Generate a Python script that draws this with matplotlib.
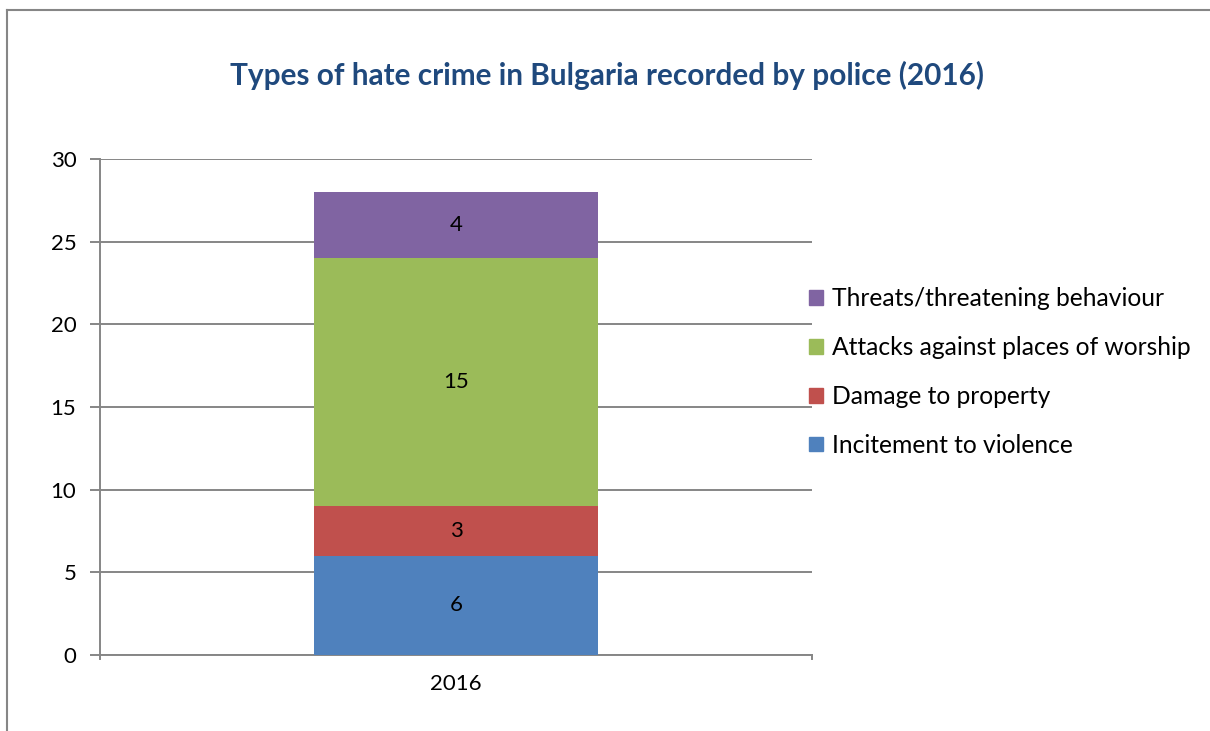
import matplotlib.pyplot as plt
from matplotlib.patches import Patch
from matplotlib.lines import Line2D

plt.rcParams['font.family'] = ['Lato', 'DejaVu Sans']

# Data
year = "2016"
categories = ["Incitement to violence", "Damage to property",
              "Attacks against places of worship", "Threats/threatening behaviour"]
values = [6, 3, 15, 4]
colors = ["#4F81BD", "#C0504D", "#9BBB59", "#8064A2"]

grid_col = "#868686"

fig = plt.figure(figsize=(12.1, 7.31), dpi=100)
ax = fig.add_axes([100 / 1210, 1 - 655 / 731, 712 / 1210, 496 / 731])

bottom = 0
for cat, val, col in zip(categories, values, colors):
    ax.bar(0, val, width=0.4, bottom=bottom, color=col, label=cat, zorder=3)
    ax.text(0, bottom + val / 2, str(val), ha="center", va="center",
            fontsize=16, color="black", zorder=4)
    bottom += val

ax.set_xlim(-0.5, 0.5)
ax.set_ylim(0, 30)
ax.set_yticks(range(0, 31, 5))
ax.yaxis.grid(True, color=grid_col, linewidth=1.4, zorder=0)
ax.set_xticks([0])
ax.set_xticklabels([year])
ax.tick_params(axis="y", length=7, width=1.4, color=grid_col, labelsize=16, pad=10)
ax.tick_params(axis="x", length=0, labelsize=16, pad=14)
for s in ["top", "right"]:
    ax.spines[s].set_visible(False)
for s in ["left", "bottom"]:
    ax.spines[s].set_color(grid_col)
    ax.spines[s].set_linewidth(1.4)

# Category boundary ticks below the baseline
for xv in [-0.5, 0.5]:
    ax.plot([xv, xv], [0, -0.25], color=grid_col, linewidth=1.4, clip_on=False, zorder=5)

fig.text(607 / 1210, 1 - 75 / 731, "Types of hate crime in Bulgaria recorded by police (2016)",
         ha="center", va="center", fontsize=21.4, fontweight="bold", color="#1F497D")

handles = [Patch(color=c, label=l) for l, c in zip(categories, colors)][::-1]
fig.legend(handles=handles, loc="center left", bbox_to_anchor=(787 / 1210, 1 - 372 / 731),
           frameon=False, fontsize=17.7, handlelength=0.55, handleheight=0.55,
           handletextpad=0.4, labelspacing=1.05)

# Outer chart frame (left and top edges visible)
fig.add_artist(Line2D([7 / 1210, 7 / 1210], [0, 1 - 10 / 731], transform=fig.transFigure,
                      color=grid_col, linewidth=1.5))
fig.add_artist(Line2D([7 / 1210, 1], [1 - 10 / 731, 1 - 10 / 731], transform=fig.transFigure,
                      color=grid_col, linewidth=1.5))

fig.savefig("out.png", dpi=100)
